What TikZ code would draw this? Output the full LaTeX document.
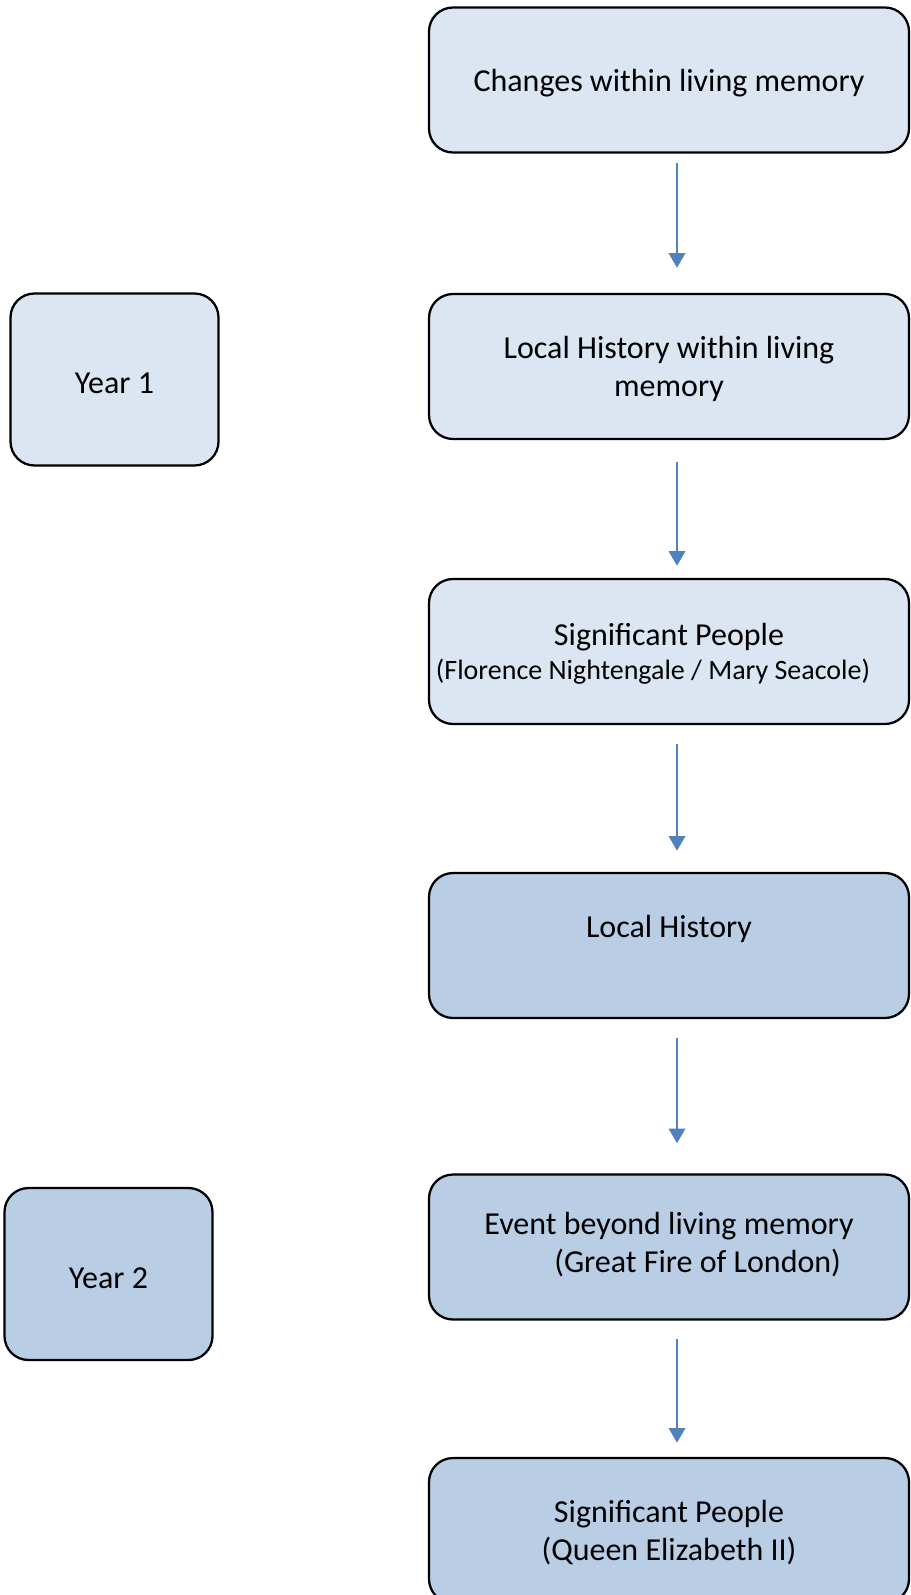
\documentclass[tikz,border=0pt]{standalone}
\usepackage{fontspec}
\setmainfont{Carlito}
\usetikzlibrary{arrows.meta}
\definecolor{pale}{HTML}{DCE6F2}
\definecolor{deep}{HTML}{B9CDE5}
\definecolor{link}{HTML}{4F81BD}

\begin{document}
\begin{tikzpicture}[x=0.75pt,y=-0.75pt,
  topic/.style={draw,rounded corners=18pt,line width=1.7pt,minimum width=360pt,minimum height=108.75pt,align=center,inner sep=2pt,text depth=0pt,font=\fontsize{24}{28.5}\selectfont},
  yearbox/.style={draw,rounded corners=18pt,line width=1.7pt,minimum width=156pt,minimum height=129pt,text height=21pt,text depth=0pt,font=\fontsize{24}{28.5}\selectfont},
  flow/.style={draw=link,line width=2.2pt,-{Triangle[width=12pt,length=11pt]}}]
\useasboundingbox (0,0) rectangle (910,1595);
\node (box1) [topic,fill=pale] at (669,80) {Changes within living memory};
\node (box2) [topic,fill=pale] at (669,366.5) {Local History within living\\memory};
\node (box3) [topic,fill=pale] at (669,651.5) {Significant People\\[-3.5pt]{\fontsize{21}{24}\selectfont (Florence Nightengale / Mary Seacole)\hspace*{24pt}}};
\node (box4) [topic,fill=deep] at (669,945.5) {Local History\\\mbox{}};
\node (box5) [topic,fill=deep,text depth=7pt] at (669,1247) {Event beyond living memory\\\hspace*{43pt}(Great Fire of London)};
\node (box6) [topic,fill=deep] at (669,1530.5) {Significant People\\(Queen Elizabeth II)};
\node (yr1) [yearbox,fill=pale] at (114.5,379.5) {Year 1};
\node (yr2) [yearbox,fill=deep] at (108.5,1274) {Year 2};

\draw [flow,shorten <=6.75pt,shorten >=18.75pt] ([xshift=6pt]box1.south) -- ([xshift=6pt]box2.north);
\draw [flow,shorten <=16.5pt,shorten >=9pt] ([xshift=6pt]box2.south) -- ([xshift=6pt]box3.north);
\draw [flow,shorten <=14.25pt,shorten >=15.75pt] ([xshift=6pt]box3.south) -- ([xshift=6pt]box4.north);
\draw [flow,shorten <=14.25pt,shorten >=22.5pt] ([xshift=6pt]box4.south) -- ([xshift=6pt]box5.north);
\draw [flow,shorten <=13.5pt,shorten >=10.5pt] ([xshift=6pt]box5.south) -- ([xshift=6pt]box6.north);
\end{tikzpicture}
\end{document}
